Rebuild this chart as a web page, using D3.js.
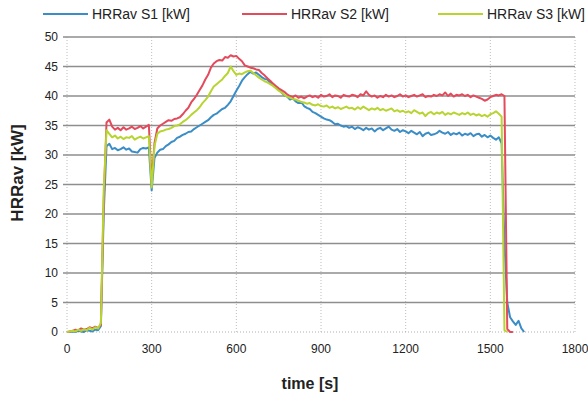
<!DOCTYPE html>
<html>
<head>
<meta charset="utf-8">
<script src="https://cdn.jsdelivr.net/npm/d3@7"></script>
<style>
  body { margin: 0; background: #fff; }
  text { font-family: "Liberation Sans", Arial, sans-serif; fill: #222; }
</style>
</head>
<body>
<div id="chart"></div>
<script>
// sample times [s]
const time = [
  0,10,20,30,40,50,60,70,80,90,100,110,120,130,140,150,160,170,180,190,
  200,210,220,230,240,250,260,270,280,290,300,310,320,330,340,350,360,370,380,390,
  400,410,420,430,440,450,460,470,480,490,500,510,520,530,540,550,560,570,580,590,
  600,610,620,630,640,650,660,670,680,690,700,710,720,730,740,750,760,770,780,790,
  800,810,820,830,840,850,860,870,880,890,900,910,920,930,940,950,960,970,980,990,
  1000,1010,1020,1030,1040,1050,1060,1070,1080,1090,1100,1110,1120,1130,1140,1150,1160,1170,1180,1190,
  1200,1210,1220,1230,1240,1250,1260,1270,1280,1290,1300,1310,1320,1330,1340,1350,1360,1370,1380,1390,
  1400,1410,1420,1430,1440,1450,1460,1470,1480,1490,1500,1510,1520,1530,1540,1550,1560,1570,1580,1590,
  1600,1610,1620
];

const s1 = [
  0,0,0.1,0,0.2,0.1,0,0.3,0.2,0.1,
  0.4,0.3,1.0,20,31.5,31.9,31.0,31.2,30.8,31.0,
  31.3,30.9,31.1,30.6,30.5,30.4,31.0,31.2,31.1,31.3,
  24.0,29.5,30.4,30.9,31.0,31.5,31.8,32.2,32.4,32.9,
  33.1,33.4,33.6,33.9,34.0,34.4,34.7,35.0,35.3,35.6,
  35.9,36.4,36.8,37.0,37.4,37.8,38.0,38.5,39.1,40.0,
  40.9,41.7,42.6,43.2,43.7,44.1,43.8,44.0,43.6,43.2,
  42.9,42.8,42.2,42.0,41.5,41.2,40.6,40.1,39.9,39.4,
  39.6,39.1,38.8,39.0,38.3,38.0,37.8,37.3,37.1,36.8,
  36.5,36.2,36.0,35.9,35.6,35.2,35.3,35.0,34.8,34.9,
  34.6,34.8,34.4,34.7,34.5,34.2,34.6,34.3,34.5,34.0,
  34.4,34.6,34.2,34.5,34.8,34.3,34.1,34.4,33.9,34.2,
  34.0,33.7,34.1,33.8,33.5,33.9,33.2,33.6,33.8,33.4,
  33.5,33.7,34.1,33.8,33.6,33.9,33.4,33.7,33.5,33.8,
  33.3,33.6,33.4,33.7,33.2,33.5,33.6,33.1,33.4,33.0,
  33.3,32.9,32.6,33.0,32.0,15.0,5.0,2.5,1.8,1.2,
  1.9,0.6,0
];

const s2 = [
  0,0.1,0.2,0.4,0.3,0.6,0.4,0.5,0.8,0.6,
  0.9,0.7,1.2,22,35.5,36.0,34.8,34.3,34.6,34.2,
  34.7,34.3,34.5,34.8,34.4,34.6,34.9,34.5,34.8,35.1,
  25.5,32.0,34.5,35.0,35.3,35.6,35.9,35.8,36.1,36.2,
  36.4,36.9,37.5,38.0,38.9,39.5,40.2,41.0,41.8,42.8,
  43.6,44.8,45.5,45.9,46.1,46.0,46.6,46.5,46.9,46.7,
  46.8,46.3,45.9,45.2,45.0,44.8,44.7,44.5,44.4,43.9,
  43.5,43.0,42.6,42.1,41.7,41.3,41.0,40.7,40.3,40.0,
  39.8,40.1,39.7,39.9,39.6,39.9,40.1,39.8,40.0,39.7,
  40.2,39.9,40.0,40.3,39.8,40.1,40.0,39.7,40.2,40.0,
  39.9,40.2,40.1,39.8,40.3,40.1,40.8,40.2,39.9,40.1,
  39.7,40.0,39.8,40.2,39.9,40.1,39.8,40.0,40.3,39.9,
  40.1,39.8,40.0,40.2,39.9,40.1,40.3,39.8,40.0,39.9,
  40.2,40.0,40.3,40.1,40.6,40.0,40.4,39.9,40.2,40.1,
  40.3,40.0,40.2,39.8,40.1,39.9,39.7,39.5,39.2,39.4,
  39.8,40.0,40.2,40.1,40.3,40.0,0.5,0,0
];

const s3 = [
  0,0.1,0.2,0.1,0.4,0.2,0.5,0.3,0.7,0.4,
  0.8,0.6,1.5,24,34.2,33.6,33.0,33.3,32.8,33.1,
  32.7,33.0,32.9,33.2,32.6,32.9,33.1,32.8,33.0,33.2,
  24.5,31.5,33.6,34.0,34.1,34.3,34.4,34.6,34.9,35.0,
  35.2,35.6,35.9,36.3,36.8,37.2,37.6,38.1,38.8,39.3,
  39.9,40.8,41.6,42.0,42.4,42.8,43.4,43.9,45.0,44.2,
  43.6,43.8,43.7,44.0,44.2,44.3,43.9,43.5,43.1,42.8,
  42.5,42.3,42.0,41.7,41.3,40.9,40.6,40.2,39.9,39.7,
  39.5,39.4,39.2,39.0,38.9,38.7,38.8,38.5,38.4,38.6,
  38.3,38.2,38.4,38.0,38.2,37.9,38.1,37.8,38.0,38.2,
  37.9,38.0,37.7,38.1,37.8,38.2,37.9,37.6,37.9,37.7,
  38.0,37.6,37.8,37.5,37.7,37.9,37.4,37.6,37.3,37.5,
  37.2,37.4,37.1,37.6,37.3,37.0,37.2,36.6,37.1,37.3,
  36.9,37.2,37.0,37.3,36.8,37.1,36.9,37.2,37.0,36.8,
  37.1,36.9,37.2,36.8,37.0,36.7,36.9,36.6,36.8,36.5,
  36.9,37.1,37.4,37.0,36.5,0.3,0
];

const seriesNames = ['HRRav S1 [kW]', 'HRRav S2 [kW]', 'HRRav S3 [kW]'];
const seriesColors = ['#3a8dc6', '#e34a5c', '#b8d430'];
const xTicks = [0, 300, 600, 900, 1200, 1500, 1800];
const yTicks = [0, 5, 10, 15, 20, 25, 30, 35, 40, 45, 50];

const width = 588;
const height = 395;
const margin = { top: 37, right: 13, bottom: 63, left: 67 };

const svg = d3.select('#chart')
  .append('svg')
  .attr('width', width)
  .attr('height', height);

const x = d3.scaleLinear()
  .domain([0, 1800])
  .range([margin.left, width - margin.right]);

const y = d3.scaleLinear()
  .domain([0, 50])
  .range([height - margin.bottom, margin.top]);

// vertical dotted grid
svg.append('g')
  .selectAll('line')
  .data(xTicks)
  .join('line')
  .attr('x1', d => x(d)).attr('x2', d => x(d))
  .attr('y1', y(50)).attr('y2', y(0))
  .attr('stroke', '#bdbdbd')
  .attr('stroke-width', 1)
  .attr('stroke-dasharray', '1,2');

// horizontal grid
svg.append('g')
  .selectAll('line')
  .data(yTicks.filter(d => d > 0))
  .join('line')
  .attr('x1', x(0) - 4).attr('x2', x(1800))
  .attr('y1', d => y(d)).attr('y2', d => y(d))
  .attr('stroke', '#8e8e8e')
  .attr('stroke-width', 1.3);

// baseline
svg.append('line')
  .attr('x1', x(0) - 4).attr('x2', x(1800))
  .attr('y1', y(0)).attr('y2', y(0))
  .attr('stroke', '#b0b0b0')
  .attr('stroke-dasharray', '1,2');

// y tick labels
svg.append('g')
  .selectAll('text')
  .data(yTicks)
  .join('text')
  .attr('x', 58)
  .attr('y', d => y(d) + 4)
  .attr('text-anchor', 'end')
  .attr('font-size', 12)
  .text(d => d);

// x tick labels
svg.append('g')
  .selectAll('text')
  .data(xTicks)
  .join('text')
  .attr('x', d => x(d))
  .attr('y', y(0) + 21)
  .attr('text-anchor', 'middle')
  .attr('font-size', 12)
  .text(d => d);

// lines
const line = d3.line()
  .x((d, i) => x(time[i]))
  .y(d => y(d));

[s1, s2, s3].forEach((s, k) => {
  svg.append('path')
    .datum(s)
    .attr('fill', 'none')
    .attr('stroke', seriesColors[k])
    .attr('stroke-width', 2)
    .attr('stroke-linejoin', 'round')
    .attr('d', line);
});

// axis titles
svg.append('text')
  .attr('x', 310)
  .attr('y', 389)
  .attr('text-anchor', 'middle')
  .attr('font-size', 16)
  .attr('font-weight', 'bold')
  .text('time [s]');

svg.append('text')
  .attr('transform', 'translate(23,173) rotate(-90)')
  .attr('text-anchor', 'middle')
  .attr('font-size', 17)
  .attr('font-weight', 'bold')
  .text('HRRav [kW]');

// legend
const legendX = [43, 242, 438];
const legend = svg.append('g')
  .selectAll('g')
  .data(seriesNames)
  .join('g')
  .attr('transform', (d, i) => `translate(${legendX[i]},14)`);

legend.append('line')
  .attr('x1', 0).attr('x2', 45)
  .attr('stroke', (d, i) => seriesColors[i])
  .attr('stroke-width', 2);

legend.append('text')
  .attr('x', 49)
  .attr('y', 5)
  .attr('font-size', 14)
  .text(d => d);
</script>
</body>
</html>
